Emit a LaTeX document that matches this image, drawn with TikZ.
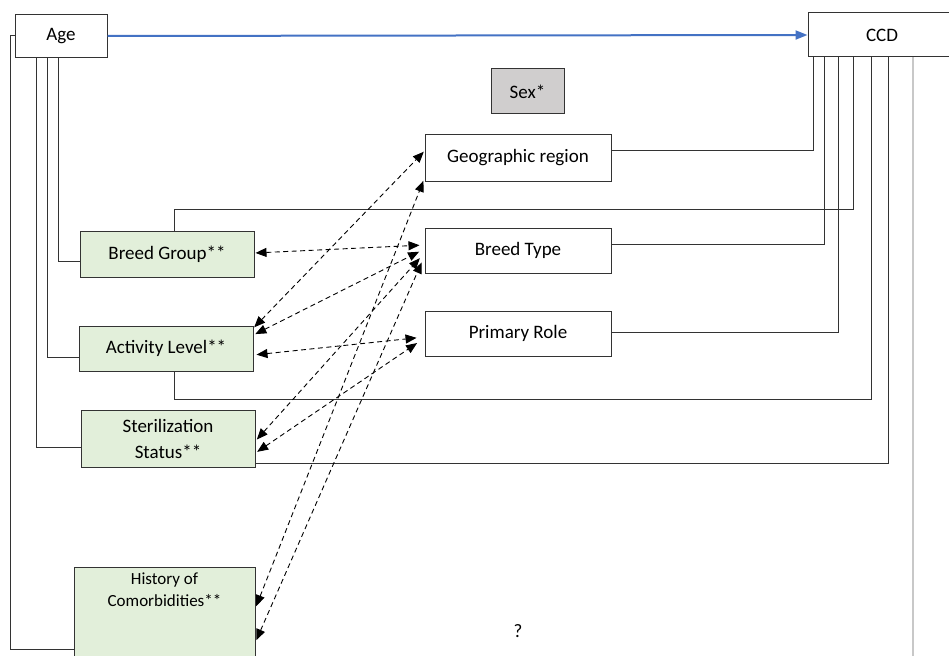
\documentclass[tikz,border=0pt]{standalone}
\usepackage{fontspec}
\setmainfont{Carlito}
\usetikzlibrary{arrows.meta,calc}
\definecolor{gfill}{HTML}{E2EFDA}
\definecolor{sfill}{HTML}{D0CECE}
\definecolor{ln}{HTML}{333333}
\definecolor{blu}{HTML}{4472C4}
\definecolor{lgray}{HTML}{C8C8C8}
\begin{document}
\begin{tikzpicture}[x=1pt,y=-1pt,
  box/.style={draw=ln, line width=1pt, fill=white, inner sep=2pt, align=center,
    font=\fontsize{19}{22}\selectfont},
  gbox/.style={box, fill=gfill},
  conn/.style={draw=ln, line width=1pt},
  dasharr/.style={draw=black, line width=0.9pt, dash pattern=on 5pt off 3.5pt,
    {Triangle[length=11pt,width=9pt]}-{Triangle[length=11pt,width=9pt]}},
]
\useasboundingbox (0,0) rectangle (949,655);
\clip (0,0) rectangle (949,655);

% nodes
\node[box, minimum width=92pt, minimum height=43pt] (age) at (61,36) {Age};
\node[box, minimum width=148pt, minimum height=44pt] (ccd) at (882,35) {CCD};
\node[box, fill=sfill, minimum width=73pt, minimum height=45pt] (sex) at (527.5,91.5) {Sex*};
\node[box, minimum width=186pt, minimum height=46pt] (geo) at (518,158) {Geographic region};
\node[box, minimum width=186pt, minimum height=45pt] (bt) at (518,250.5) {Breed Type};
\node[box, minimum width=186pt, minimum height=45pt] (pr) at (518,333.5) {Primary Role};
\node[gbox, minimum width=174pt, minimum height=46pt] (bg) at (167,254) {Breed Group**};
\node[gbox, minimum width=174pt, minimum height=45pt] (act) at (166,348.5) {Activity Level**};
\node[gbox, minimum width=174pt, minimum height=57pt,
  font=\fontsize{19}{26}\selectfont] (ster) at (168,438.5) {Sterilization\\Status**};
\node[gbox, minimum width=181pt, anchor=north, inner sep=5pt,
  font=\fontsize{17}{22}\selectfont] (hist) at (164.5,567) {History of\\Comorbidities**\\[50pt]\mbox{}};
\node[font=\fontsize{19}{22}\selectfont] (q) at (518,631) {?};

% blue arrow
\draw[blu, line width=2pt, -{Triangle[length=12pt,width=9pt]}] (age.east) -- (ccd.west);

% Age connectors
\draw[conn] (age.west) -| (10,649) -- (hist.west |- 0,649);
\draw[conn] (age.south -| 36,0) |- (ster.west |- 0,447);
\draw[conn] (age.south -| 47,0) |- (act.west |- 0,357);
\draw[conn] (age.south -| 58,0) |- (bg.west |- 0,261);

% CCD connectors
\draw[conn] (ccd.south -| 813,0) |- (geo.east |- 0,151);
\draw[conn] (ccd.south -| 824,0) |- (bt.east |- 0,244);
\draw[conn] (ccd.south -| 838,0) |- (pr.east |- 0,332);
\draw[conn] (ccd.south -| 853,0) |- (174,209) -- (bg.north -| 174,0);
\draw[conn] (ccd.south -| 871,0) |- (174,399) -- (act.south -| 174,0);
\draw[conn] (ccd.south -| 888,0) |- (ster.east |- 0,463);
\draw[lgray, line width=1.2pt] (ccd.south -| 913,0) -- (913,660);

% dashed correlations
\draw[dasharr, shorten <=1pt, shorten >=5pt] (bg.east |- 0,253) -- (bt.west |- 0,245);
\draw[dasharr, shorten <=1pt, shorten >=1pt] (act.east |- 0,328) -- (geo.west |- 0,151);
\draw[dasharr, shorten <=2pt, shorten >=6pt] (act.east |- 0,335) -- (bt.west |- 0,249);
\draw[dasharr, shorten <=3pt, shorten >=8pt] (act.east |- 0,355) -- (pr.west |- 0,337);
\draw[dasharr, shorten <=2pt, shorten >=7pt] (ster.east |- 0,441) -- (bt.west |- 0,253);
\draw[dasharr, shorten <=2pt, shorten >=9pt] (ster.east |- 0,453) -- (pr.west |- 0,338);
\draw[dasharr, shorten <=2pt, shorten >=3pt] (hist.east |- 0,608) -- (geo.west |- 0,178);
\draw[dasharr, shorten <=2pt, shorten >=7pt] (hist.east |- 0,642) -- (bt.west |- 0,256);
\end{tikzpicture}
\end{document}
